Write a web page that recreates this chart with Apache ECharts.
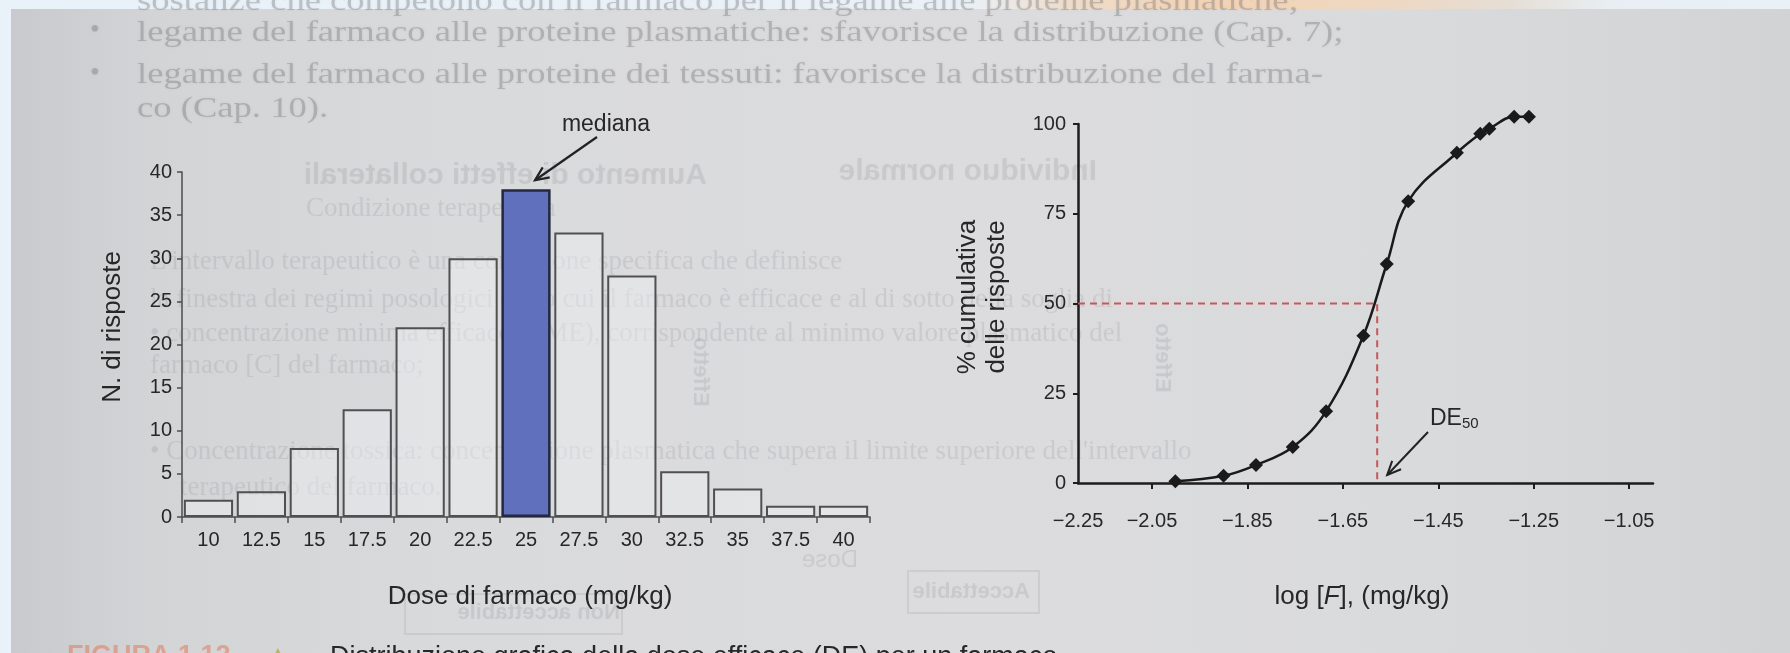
<!DOCTYPE html>
<html>
<head>
<meta charset="utf-8">
<script src="https://cdn.jsdelivr.net/npm/echarts@6/dist/echarts.min.js"></script>
<style>
  html, body { margin: 0; padding: 0; width: 1790px; height: 653px; overflow: hidden; background: #e9f2f9; }
  #frameTop { position: absolute; left: 0; top: 0; width: 1790px; height: 9px;
    background: linear-gradient(90deg, #e9f2f9 0%, #eaf1f7 54%, #efdcc9 60%, #f3d3b6 68%, #eed8c3 78%, #e6ddd3 84%, #e8eef3 90%, #e9f1f7 100%); }
  #paper { position: absolute; left: 11px; top: 9px; width: 1779px; height: 644px;
    background: linear-gradient(90deg, #c9cacd 0%, #d3d4d6 8%, #d9dadc 25%, #dcdcde 55%, #d9dadc 80%, #d2d3d5 100%); }
  #chart { position: absolute; left: 0; top: 0; width: 1790px; height: 653px; }
</style>
</head>
<body>
<div id="frameTop"></div>
<div id="paper"></div>
<div id="chart"></div>
<script>
// ---- Histogram: number of responses per dose ----
const doseLabels = ['10', '12.5', '15', '17.5', '20', '22.5', '25', '27.5', '30', '32.5', '35', '37.5', '40'];
const responseCounts = [2, 3, 8, 12.5, 22, 30, 38, 33, 28, 5.3, 3.3, 1.3, 1.3];
const medianIndex = 6;
const countTicks = { min: 0, max: 40, step: 5 };

// ---- Cumulative response curve vs log dose ----
const logDose = [-2.001, -1.900, -1.832, -1.755, -1.685, -1.607, -1.558, -1.513, -1.411, -1.362, -1.343, -1.291, -1.260];
const cumulativePct = [0.5, 2, 5, 10, 20, 41, 61, 78.5, 92, 97.3, 98.7, 102, 102];
const logTickValues = [-2.25, -2.05, -1.85, -1.65, -1.45, -1.25, -1.05];
const logTickLabels = ['\u22122.25', '\u22122.05', '\u22121.85', '\u22121.65', '\u22121.45', '\u22121.25', '\u22121.05'];
const logAxisRange = [-2.205, -1.0];
const pctTicks = { min: 0, max: 100, step: 25 };
const de50 = -1.578;

const FONT = "'Liberation Sans', Arial, Helvetica, sans-serif";
const SERIF = "'Liberation Serif', 'DejaVu Serif', serif";
const INK = '#272727';

const labelPositions = logTickValues.map(v => Math.max(v, logAxisRange[0]));
function logLabel(value) {
  for (let i = 0; i < labelPositions.length; i++) {
    if (Math.abs(labelPositions[i] - value) < 1e-6) return logTickLabels[i];
  }
  return '';
}

const barData = responseCounts.map((v, i) => i === medianIndex
  ? { value: v, itemStyle: { color: '#6070bd', borderColor: '#23283f', borderWidth: 2.5 } }
  : v);

const chart = echarts.init(document.getElementById('chart'), null, { renderer: 'canvas' });

const axisText = { fontFamily: FONT, fontSize: 20, color: INK };

chart.setOption({
  backgroundColor: 'transparent',
  animation: false,
  textStyle: { fontFamily: FONT },
  grid: [
    { left: 182, top: 172, width: 688, height: 345 },
    { left: 1078, top: 124, width: 575, height: 359 }
  ],
  xAxis: [
    {
      gridIndex: 0, type: 'category', data: doseLabels, boundaryGap: true,
      axisLine: { show: true, lineStyle: { color: '#4d4d4d', width: 1.5 } },
      axisTick: { show: true, alignWithLabel: false, length: 6, lineStyle: { color: '#4d4d4d', width: 1.5 } },
      axisLabel: Object.assign({ margin: 13, interval: 0 }, axisText),
      splitLine: { show: false }
    },
    {
      gridIndex: 1, type: 'value', min: logAxisRange[0], max: logAxisRange[1],
      axisLine: { show: true, onZero: false, lineStyle: { color: '#1d1d1d', width: 2.5 } },
      axisTick: { show: true, length: 6, customValues: logTickValues.slice(1), lineStyle: { color: '#1d1d1d', width: 2 } },
      axisLabel: Object.assign({ margin: 28, customValues: labelPositions, formatter: logLabel, showMinLabel: true, showMaxLabel: true }, axisText),
      splitLine: { show: false }
    }
  ],
  yAxis: [
    {
      gridIndex: 0, type: 'value', min: countTicks.min, max: countTicks.max, interval: countTicks.step,
      axisLine: { show: true, lineStyle: { color: '#4d4d4d', width: 1.5 } },
      axisTick: { show: true, length: 5, lineStyle: { color: '#4d4d4d', width: 1.5 } },
      axisLabel: Object.assign({ margin: 10 }, axisText),
      splitLine: { show: false }
    },
    {
      gridIndex: 1, type: 'value', min: pctTicks.min, max: pctTicks.max, interval: pctTicks.step,
      axisLine: { show: true, lineStyle: { color: '#1d1d1d', width: 2.5 } },
      axisTick: { show: true, length: 5, lineStyle: { color: '#1d1d1d', width: 2 } },
      axisLabel: Object.assign({ margin: 12 }, axisText),
      splitLine: { show: false }
    }
  ],
  series: [
    {
      type: 'bar', xAxisIndex: 0, yAxisIndex: 0, data: barData,
      barCategoryGap: '7%',
      itemStyle: { color: 'rgba(238,239,241,0.45)', borderColor: '#505050', borderWidth: 2 },
      emphasis: { disabled: true }
    },
    {
      type: 'line', xAxisIndex: 1, yAxisIndex: 1,
      data: [[logAxisRange[0], 50], [de50, 50], [de50, 0]],
      symbol: 'none', clip: false,
      lineStyle: { color: '#c25a5c', width: 2, type: [7, 5] },
      z: 3
    },
    {
      type: 'line', xAxisIndex: 1, yAxisIndex: 1,
      data: logDose.map((x, i) => [x, cumulativePct[i]]),
      smooth: 0.4, clip: false,
      symbol: 'diamond', symbolSize: 14,
      itemStyle: { color: '#1a1a1a' },
      lineStyle: { color: '#1a1a1a', width: 2.5 },
      z: 5
    }
  ]
});

// ---- annotations and page text ----
function arrow(tail, tip, color, width) {
  const ang = Math.atan2(tip[1] - tail[1], tip[0] - tail[0]);
  const len = 15, spread = 0.42;
  const a = [tip[0] - len * Math.cos(ang - spread), tip[1] - len * Math.sin(ang - spread)];
  const b = [tip[0] - len * Math.cos(ang + spread), tip[1] - len * Math.sin(ang + spread)];
  return [
    { type: 'line', silent: true, z: 20, shape: { x1: tail[0], y1: tail[1], x2: tip[0], y2: tip[1] }, style: { stroke: color, lineWidth: width } },
    { type: 'polyline', silent: true, z: 20, shape: { points: [a, tip, b] }, style: { stroke: color, lineWidth: width, fill: null, lineJoin: 'miter' } }
  ];
}

const medTop = chart.convertToPixel({ xAxisIndex: 0, yAxisIndex: 0 }, [doseLabels[medianIndex], responseCounts[medianIndex]]);
const dePt = chart.convertToPixel({ xAxisIndex: 1, yAxisIndex: 1 }, [de50, 0]);

const ghostDark = 'rgba(95,95,100,0.30)';
const ghostSoft = 'rgba(105,105,110,0.14)';
function ghost(text, x, y, opts) {
  opts = opts || {};
  const sx = opts.stretch || 1;
  return {
    type: 'text', silent: true, z: -10,
    x: x, y: y, rotation: opts.rotation || 0, scaleX: opts.mirror ? -sx : sx,
    style: {
      text: text, fill: opts.color || ghostSoft,
      font: (opts.weight || 'normal') + ' ' + (opts.size || 26) + 'px ' + (opts.family || FONT),
      textAlign: opts.align || 'left', textVerticalAlign: 'middle',
      textShadowColor: opts.color || ghostSoft, textShadowBlur: 3
    }
  };
}
function ghostBox(x, y, w, h) {
  return { type: 'rect', silent: true, z: -10, shape: { x: x, y: y, width: w, height: h },
    style: { fill: null, stroke: 'rgba(105,105,110,0.13)', lineWidth: 2 } };
}

const bodyOpts = { family: SERIF, size: 30, color: ghostDark, stretch: 1.22 };

const graphics = [
  // text showing through from the surrounding page
  ghost('sostanze che competono con il farmaco per il legame alle proteine plasmatiche;', 137, 2, bodyOpts),
  ghost('\u2022', 90, 31, { family: SERIF, size: 28, color: ghostDark }),
  ghost('legame del farmaco alle proteine plasmatiche: sfavorisce la distribuzione (Cap. 7);', 137, 33, bodyOpts),
  ghost('\u2022', 90, 74, { family: SERIF, size: 28, color: ghostDark }),
  ghost('legame del farmaco alle proteine dei tessuti: favorisce la distribuzione del farma-', 137, 75, bodyOpts),
  ghost('co (Cap. 10).', 137, 109, bodyOpts),
  ghost('Aumento di effetti collaterali', 707, 176, { mirror: true, weight: 'bold', size: 30 }),
  ghost('Individuo normale', 1097, 172, { mirror: true, weight: 'bold', size: 30 }),
  ghost('Condizione terapeutica', 306, 209, { family: SERIF, size: 27 }),
  ghost("L'intervallo terapeutico \u00e8 una condizione specifica che definisce", 150, 262, { family: SERIF, size: 27 }),
  ghost("la finestra dei regimi posologici entro cui il farmaco \u00e8 efficace e al di sotto della soglia di", 150, 300, { family: SERIF, size: 27 }),
  ghost("\u2022 concentrazione minima efficace (CME), corrispondente al minimo valore plasmatico del", 150, 334, { family: SERIF, size: 27 }),
  ghost("farmaco [C] del farmaco;", 150, 366, { family: SERIF, size: 27 }),
  ghost("\u2022 Concentrazione tossica: concentrazione plasmatica che supera il limite superiore dell'intervallo", 150, 452, { family: SERIF, size: 27 }),
  ghost("terapeutico del farmaco.", 180, 488, { family: SERIF, size: 27 }),
  ghost('Effetto', 700, 372, { rotation: -Math.PI / 2, mirror: true, weight: 'bold', size: 22, align: 'center' }),
  ghost('Effetto', 1162, 358, { rotation: -Math.PI / 2, mirror: true, weight: 'bold', size: 22, align: 'center' }),
  ghost('Dose', 858, 560, { mirror: true, size: 24 }),
  ghost('Accettabile', 1030, 592, { mirror: true, weight: 'bold', size: 22 }),
  ghostBox(908, 571, 131, 42),
  ghost('Non accettabile', 620, 613, { mirror: true, weight: 'bold', size: 22 }),
  ghostBox(405, 594, 217, 40),

  // axis titles
  { type: 'text', silent: true, z: 20, x: 113, y: 327, rotation: Math.PI / 2,
    style: { text: 'N. di risposte', fill: INK, font: '26px ' + FONT, textAlign: 'center', textVerticalAlign: 'middle' } },
  { type: 'text', silent: true, z: 20, x: 530, y: 597,
    style: { text: 'Dose di farmaco (mg/kg)', fill: INK, font: '26px ' + FONT, textAlign: 'center', textVerticalAlign: 'middle' } },
  { type: 'text', silent: true, z: 20, x: 982, y: 297, rotation: Math.PI / 2,
    style: { text: '% cumulativa\ndelle risposte', fill: INK, font: '26px ' + FONT, lineHeight: 29, textAlign: 'center', textVerticalAlign: 'middle' } },
  { type: 'text', silent: true, z: 20, x: 1362, y: 597,
    style: {
      text: '{n|log [}{i|F}{n|], (mg/kg)}', textAlign: 'center', textVerticalAlign: 'middle',
      rich: {
        n: { fontFamily: FONT, fontSize: 26, fill: INK, color: INK },
        i: { fontFamily: FONT, fontSize: 26, fontStyle: 'italic', fill: INK, color: INK }
      }
    } },

  // median annotation
  { type: 'text', silent: true, z: 20, x: 606, y: 125,
    style: { text: 'mediana', fill: INK, font: '23px ' + FONT, textAlign: 'center', textVerticalAlign: 'middle' } },
  ...arrow([597, 137], [medTop[0] + 9, medTop[1] - 9], '#222', 2.2),

  // DE50 annotation
  { type: 'text', silent: true, z: 20, x: 1430, y: 419,
    style: {
      text: '{d|DE}{s|50}', textAlign: 'left', textVerticalAlign: 'middle',
      rich: {
        d: { fontFamily: FONT, fontSize: 23, fill: INK, color: INK },
        s: { fontFamily: FONT, fontSize: 15, fill: INK, color: INK, padding: [10, 0, 0, 0] }
      }
    } },
  ...arrow([1428, 432], [dePt[0] + 10, dePt[1] - 8], '#222', 2),

  // figure caption, cut by the lower edge
  { type: 'text', silent: true, z: 20, x: 67, y: 643,
    style: { text: 'FIGURA 1.12', fill: 'rgba(226,120,90,0.55)', font: 'bold 27px ' + FONT, textVerticalAlign: 'top' } },
  { type: 'text', silent: true, z: 20, x: 266, y: 643,
    style: { text: '\u25B2', fill: 'rgba(170,170,60,0.7)', font: '24px ' + FONT, textVerticalAlign: 'top' } },
  { type: 'text', silent: true, z: 20, x: 330, y: 644,
    style: { text: 'Distribuzione grafica della dose efficace (DE) per un farmaco', fill: INK, font: '27px ' + FONT, textVerticalAlign: 'top' } }
];

chart.setOption({ graphic: graphics });
</script>
</body>
</html>
